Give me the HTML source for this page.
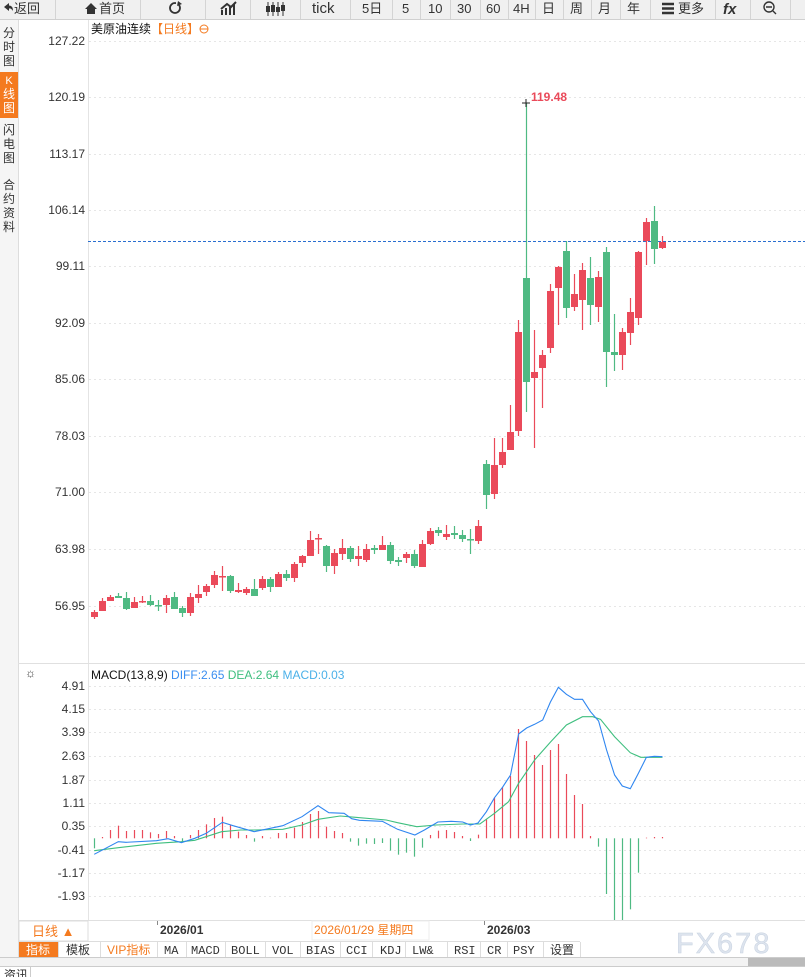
<!DOCTYPE html>
<html><head><meta charset="utf-8"><style>
html,body{margin:0;padding:0;background:#fff;width:805px;height:977px;overflow:hidden}
svg{display:block;font-family:"Liberation Sans","Noto Sans CJK SC",sans-serif}
</style></head><body>
<svg id="s" width="805" height="977" xmlns="http://www.w3.org/2000/svg">
<!-- toolbar -->
<rect x="0" y="0" width="805" height="19" fill="#f0f0f0"/>
<line x1="0" y1="19.5" x2="805" y2="19.5" stroke="#d0d0d0"/>
<g stroke="#d4d4d4">
<line x1="55.5" y1="0" x2="55.5" y2="19"/><line x1="140.5" y1="0" x2="140.5" y2="19"/><line x1="205.5" y1="0" x2="205.5" y2="19"/><line x1="250.5" y1="0" x2="250.5" y2="19"/><line x1="300.5" y1="0" x2="300.5" y2="19"/><line x1="350.5" y1="0" x2="350.5" y2="19"/><line x1="392.5" y1="0" x2="392.5" y2="19"/><line x1="420.5" y1="0" x2="420.5" y2="19"/><line x1="450.5" y1="0" x2="450.5" y2="19"/><line x1="480.5" y1="0" x2="480.5" y2="19"/><line x1="508.5" y1="0" x2="508.5" y2="19"/><line x1="535.5" y1="0" x2="535.5" y2="19"/><line x1="563.5" y1="0" x2="563.5" y2="19"/><line x1="591.5" y1="0" x2="591.5" y2="19"/><line x1="620.5" y1="0" x2="620.5" y2="19"/><line x1="650.5" y1="0" x2="650.5" y2="19"/><line x1="715.5" y1="0" x2="715.5" y2="19"/><line x1="750.5" y1="0" x2="750.5" y2="19"/><line x1="790.5" y1="0" x2="790.5" y2="19"/>
</g>
<g font-size="13" fill="#333">
<text x="14" y="13">返回</text><path d="M4 7 L9 3 L9 5.5 Q13 5.5 13 11 Q11 8 9 8.5 L9 11 Z" fill="#333"/>
<path d="M85 9 L91 3 L97 9 L95 9 L95 14 L87 14 L87 9 Z" fill="#333"/><text x="99" y="13">首页</text>
<circle cx="175" cy="8" r="5" fill="none" stroke="#333" stroke-width="1.8"/><rect x="176" y="1" width="5" height="4" fill="#f0f0f0"/><path d="M178 1 L182 4 L177 6 Z" fill="#333"/>
<path d="M222 15 V10 M226 15 V8 M230 15 V6 M234 15 V4 M221 9 L227 4 L231 7 L236 2" stroke="#333" stroke-width="2" fill="none"/>
<path d="M268 2 V16 M273 2 V16 M278 2 V16 M283 2 V16" stroke="#333"/><rect x="266" y="6" width="4" height="6" fill="#333"/><rect x="271" y="5" width="4" height="7" fill="#333"/><rect x="276" y="7" width="4" height="5" fill="#333"/><rect x="281" y="5" width="4" height="6" fill="#333"/>
<text x="312" y="13" font-size="15">tick</text>
<text x="362" y="13">5日</text><text x="402" y="13">5</text><text x="428" y="13">10</text><text x="457" y="13">30</text><text x="486" y="13">60</text><text x="513" y="13">4H</text><text x="542" y="13">日</text><text x="570" y="13">周</text><text x="598" y="13">月</text><text x="627" y="13">年</text>
<path d="M662 4 H674 M662 8.5 H674 M662 13 H674" stroke="#333" stroke-width="2.4"/><text x="678" y="13">更多</text>
<text x="723" y="14" font-size="15" font-style="italic" font-weight="bold">fx</text>
<circle cx="769" cy="7" r="5" fill="none" stroke="#333" stroke-width="1.4"/><path d="M766 7 H772 M773 11 L776 14" stroke="#333" stroke-width="1.4"/>
</g>
<!-- left sidebar -->
<rect x="0" y="20" width="18" height="938" fill="#f5f5f5"/>
<line x1="18.5" y1="20" x2="18.5" y2="958" stroke="#ddd"/>
<rect x="0" y="72" width="18" height="46" fill="#f47a1f"/>
<g font-size="12" fill="#333" text-anchor="middle">
<text x="9" y="37">分</text><text x="9" y="51">时</text><text x="9" y="65">图</text>
<text x="9" y="84" fill="#fff" font-size="11">K</text><text x="9" y="98" fill="#fff">线</text><text x="9" y="112" fill="#fff">图</text>
<text x="9" y="134">闪</text><text x="9" y="148">电</text><text x="9" y="162">图</text>
<text x="9" y="189">合</text><text x="9" y="203">约</text><text x="9" y="217">资</text><text x="9" y="231">料</text>
</g>
<!-- axes separators -->
<line x1="88.5" y1="20" x2="88.5" y2="920" stroke="#e4e4e4"/>
<line x1="18" y1="663.5" x2="805" y2="663.5" stroke="#e0e0e0"/>
<g id="grid" stroke="#e6e6e6" stroke-dasharray="2,3"></g>
<g font-size="12" fill="#333" text-anchor="end" id="ylab">
<text x="85" y="45">127.22</text><text x="85" y="101">120.19</text><text x="85" y="158">113.17</text><text x="85" y="214">106.14</text><text x="85" y="270">99.11</text><text x="85" y="327">92.09</text><text x="85" y="383">85.06</text><text x="85" y="440">78.03</text><text x="85" y="496">71.00</text><text x="85" y="553">63.98</text><text x="85" y="610">56.95</text>
<text x="85" y="690">4.91</text><text x="85" y="713">4.15</text><text x="85" y="736">3.39</text><text x="85" y="760">2.63</text><text x="85" y="784">1.87</text><text x="85" y="807">1.11</text><text x="85" y="830">0.35</text><text x="85" y="854">-0.41</text><text x="85" y="877">-1.17</text><text x="85" y="900">-1.93</text>
</g>
<text x="91" y="33" font-size="12" fill="#111">美原油连续<tspan fill="#f47a1f">【日线】</tspan></text>
<circle cx="204" cy="29" r="4" fill="none" stroke="#f47a1f"/><line x1="200" y1="29" x2="208" y2="29" stroke="#f47a1f"/>
<line x1="88" y1="241.5" x2="805" y2="241.5" stroke="#2a6fd0" stroke-dasharray="3,2"/>
<g id="cand"></g>
<path d="M522 103 H530 M526 99 V107" stroke="#222"/>
<text x="531" y="101" font-size="12" font-weight="bold" fill="#ea4a5a">119.48</text>
<!-- MACD -->
<text x="25" y="677" font-size="12" fill="#333">☼</text>
<text x="91" y="679" font-size="12" fill="#111">MACD(13,8,9) <tspan fill="#3a8ef0">DIFF:2.65</tspan> <tspan fill="#3fbf7f">DEA:2.64</tspan> <tspan fill="#4ab0e8">MACD:0.03</tspan></text>
<g id="macd"></g>
<!-- date bar -->
<line x1="18" y1="920.5" x2="805" y2="920.5" stroke="#e0e0e0"/>
<rect x="19" y="921" width="69" height="20" fill="#fff" stroke="#ddd"/>
<text x="32" y="936" font-size="13" fill="#f47a1f">日线 ▲</text>
<line x1="157.5" y1="921" x2="157.5" y2="925" stroke="#888"/><line x1="484.5" y1="921" x2="484.5" y2="925" stroke="#888"/>
<text x="160" y="934" font-size="12" font-weight="bold" fill="#333">2026/01</text>
<rect x="312" y="921" width="117" height="19" fill="#fff" stroke="#eee"/>
<text x="314" y="934" font-size="12" fill="#f47a1f">2026/01/29 星期四</text>
<text x="487" y="934" font-size="12" font-weight="bold" fill="#333">2026/03</text>
<text x="676" y="953" font-size="29" fill="#dde4ee" stroke="#c8d2e0" stroke-width="0.5" letter-spacing="2">FX678</text>
<!-- tabs -->
<line x1="18" y1="941.5" x2="580" y2="941.5" stroke="#ddd"/>
<rect x="19" y="942" width="39" height="15" fill="#f47a1f"/>
<g font-size="12" fill="#333" font-family="Liberation Mono,'Noto Sans CJK SC',monospace">
<text x="26" y="954" fill="#fff" font-family="Liberation Sans,'Noto Sans CJK SC',sans-serif">指标</text>
<text x="66" y="954" font-family="Liberation Sans,'Noto Sans CJK SC',sans-serif">模板</text>
<text x="107" y="954" fill="#f47a1f" font-family="Liberation Sans,'Noto Sans CJK SC',sans-serif">VIP指标</text>
<text x="164" y="954">MA</text><text x="191" y="954">MACD</text><text x="231" y="954">BOLL</text><text x="272" y="954">VOL</text><text x="306" y="954">BIAS</text><text x="346" y="954">CCI</text><text x="380" y="954">KDJ</text><text x="412" y="954">LW&amp;</text><text x="454" y="954">RSI</text><text x="487" y="954">CR</text><text x="513" y="954">PSY</text>
<text x="550" y="954" font-family="Liberation Sans,'Noto Sans CJK SC',sans-serif">设置</text>
</g>
<g stroke="#ddd"><line x1="58.5" y1="942" x2="58.5" y2="957"/><line x1="100.5" y1="942" x2="100.5" y2="957"/><line x1="157.5" y1="942" x2="157.5" y2="957"/><line x1="186.5" y1="942" x2="186.5" y2="957"/><line x1="225.5" y1="942" x2="225.5" y2="957"/><line x1="265.5" y1="942" x2="265.5" y2="957"/><line x1="300.5" y1="942" x2="300.5" y2="957"/><line x1="340.5" y1="942" x2="340.5" y2="957"/><line x1="372.5" y1="942" x2="372.5" y2="957"/><line x1="405.5" y1="942" x2="405.5" y2="957"/><line x1="447.5" y1="942" x2="447.5" y2="957"/><line x1="480.5" y1="942" x2="480.5" y2="957"/><line x1="507.5" y1="942" x2="507.5" y2="957"/><line x1="543.5" y1="942" x2="543.5" y2="957"/><line x1="580.5" y1="942" x2="580.5" y2="957"/></g>
<line x1="0" y1="957.5" x2="805" y2="957.5" stroke="#ccc"/>
<rect x="0" y="958" width="805" height="8" fill="#f3f3f3"/>
<rect x="748" y="958" width="57" height="8" fill="#bbb"/>
<line x1="0" y1="966.5" x2="805" y2="966.5" stroke="#ccc"/>
<line x1="30.5" y1="967" x2="30.5" y2="977" stroke="#ccc"/>
<text x="4" y="979" font-size="12" fill="#333">资讯</text>
</svg>
<script>
var NS="http://www.w3.org/2000/svg";
function el(p,t,a){var e=document.createElementNS(NS,t);for(var k in a)e.setAttribute(k,a[k]);p.appendChild(e);return e;}
var g=document.getElementById('grid');
[41,97,154,210,266,323,379,436,492,549,606,686,709,732,756,780,803,826,850,873,896].forEach(function(y){el(g,'line',{x1:89,x2:805,y1:y+.5,y2:y+.5});});
var R="#ea4a5a",G="#4fba83";
// [color, bodyTop, bodyBot, high, low]
var c=[[R,612,617,610,619],[R,601,611,598,611],[R,597,601,595,601],[G,596,598,593,598],[G,598,609,592,610],[R,602,608,597,608],[R,601,602,596,603],[G,601,605,595,606],[G,605,605,600,611],[R,598,605,595,613],[G,597,609,592,609],[G,608,613,606,617],[R,597,613,593,616],[R,594,598,585,603],[R,586,592,584,596],[R,575,585,571,588],[R,576,576,566,591],[G,576,591,575,593],[R,590,592,583,593],[R,589,593,587,595],[G,589,596,579,596],[R,579,588,576,590],[G,579,587,577,592],[R,574,587,572,587],[G,574,578,570,581],[R,564,578,562,582],[R,556,563,555,567],[R,540,556,531,556],[R,538,539,534,554],[G,546,566,545,572],[R,553,566,549,574],[R,548,554,539,560],[G,548,559,546,562],[R,556,559,546,566],[R,549,560,544,562],[G,548,550,545,554],[R,545,550,536,550],[G,545,561,542,564],[G,560,562,557,566],[R,554,558,552,563],[G,554,566,550,568],[R,544,567,540,567],[R,531,544,528,545],[G,530,533,527,536],[R,534,537,525,540],[G,533,535,526,539],[G,535,539,530,542],[G,539,539,529,554],[R,526,541,520,544],[G,464,495,460,509],[R,465,494,438,499],[R,452,465,438,468],[R,432,450,405,450],[R,332,431,320,436],[G,278,382,103,412],[R,372,378,330,448],[R,355,368,350,408],[R,291,348,284,353],[R,267,288,266,325],[G,251,308,241,318],[R,294,307,274,311],[R,270,300,263,330],[G,278,305,257,325],[R,277,307,271,322],[G,252,352,247,387],[G,352,355,314,371],[R,332,355,328,370],[R,312,333,298,345],[R,252,318,251,325],[R,222,241,218,265],[G,221,249,206,264],[R,242,248,236,249]];
var cg=document.getElementById('cand');
c.forEach(function(d,i){var x=94+8*i;el(cg,'line',{x1:x+.5,x2:x+.5,y1:d[3],y2:d[4],stroke:d[0],'stroke-width':1.2});var h=Math.max(d[2]-d[1],1.5);el(cg,'rect',{x:x-3,y:d[1],width:7,height:h,fill:d[0]});});
var m=document.getElementById('macd');
var h=[565,531,510,497,513,510,510,517,522,513,528,545,525,510,493,474,470,495,515,525,545,528,533,519,519,503,486,462,453,500,513,519,545,557,551,552,549,572,584,578,590,563,525,512,510,516,528,543,524,478,413,381,348,207,243,285,315,270,252,342,405,432,528,560,702,780,780,748,638,533,531,531];
var z=838.3;
h.forEach(function(v,i){var x=94.5+8*i;var y=660+v/3;if(i==65||i==66)y=920;el(m,'line',{x1:x,x2:x,y1:z,y2:y,stroke:(y<z?R:G),'stroke-width':1.2});});
function pl(pts,col){var s=pts.map(function(p){return (80+p[0]/2.613).toFixed(1)+','+(660+p[1]/3).toFixed(1);}).join(' ');el(m,'polyline',{points:s,fill:'none',stroke:col,'stroke-width':1.1});}
pl([[37,572],[100,563],[200,550],[265,545],[300,541],[370,515],[420,510],[455,510],[530,508],[580,495],[622,478],[680,468],[720,472],[800,480],[830,488],[880,500],[930,495],[1000,492],[1045,492],[1083,460],[1120,425],[1146,370],[1188,300],[1229,247],[1271,195],[1313,170],[1340,170],[1360,178],[1397,230],[1438,278],[1465,292],[1522,292]],"#3fbf7f");
pl([[37,583],[100,545],[120,547],[200,542],[230,536],[265,548],[300,535],[330,520],[372,487],[400,497],[455,515],[480,509],[530,497],[580,470],[622,437],[650,458],[690,460],[710,476],[730,481],[790,484],[830,508],[875,525],[900,510],[935,486],[970,484],[1000,486],[1020,495],[1040,489],[1062,455],[1083,413],[1104,382],[1125,345],[1146,222],[1167,204],[1188,193],[1209,180],[1229,127],[1250,82],[1271,103],[1292,118],[1313,118],[1334,155],[1355,183],[1376,270],[1397,345],[1417,378],[1438,386],[1459,340],[1480,292],[1501,289],[1522,290]],"#2f86f0");
</script>
</body></html>
